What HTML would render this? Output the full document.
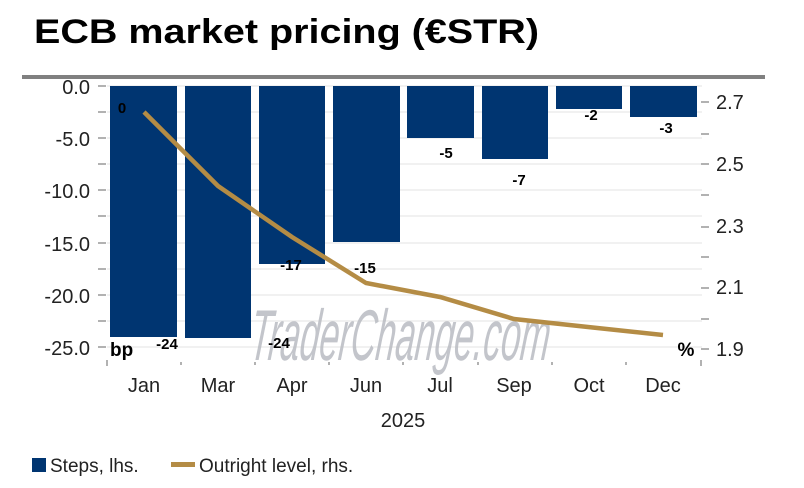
<!DOCTYPE html>
<html><head><meta charset="utf-8"><style>
body{margin:0;background:#fff;width:804px;height:483px;overflow:hidden;font-family:"Liberation Sans",sans-serif;}
</style></head><body>
<svg width="804" height="483" xmlns="http://www.w3.org/2000/svg" font-family="Liberation Sans, sans-serif">
<text x="34" y="43" font-size="34" font-weight="bold" fill="#000" textLength="505" lengthAdjust="spacingAndGlyphs">ECB market pricing (€STR)</text>
<rect x="22" y="75" width="743" height="4" fill="#808080"/>
<g stroke="#e3e3e3" stroke-width="1">
<line x1="107" x2="702" y1="86" y2="86"/><line x1="107" x2="702" y1="112" y2="112"/><line x1="107" x2="702" y1="138" y2="138"/><line x1="107" x2="702" y1="164" y2="164"/><line x1="107" x2="702" y1="190" y2="190"/><line x1="107" x2="702" y1="216" y2="216"/><line x1="107" x2="702" y1="243" y2="243"/><line x1="107" x2="702" y1="269" y2="269"/><line x1="107" x2="702" y1="295" y2="295"/><line x1="107" x2="702" y1="321" y2="321"/><line x1="107" x2="702" y1="347" y2="347"/>
</g>
<g stroke="#666" stroke-width="1">
<line x1="98" x2="106" y1="86" y2="86"/><line x1="98" x2="106" y1="112" y2="112"/><line x1="98" x2="106" y1="138" y2="138"/><line x1="98" x2="106" y1="164" y2="164"/><line x1="98" x2="106" y1="190" y2="190"/><line x1="98" x2="106" y1="216" y2="216"/><line x1="98" x2="106" y1="243" y2="243"/><line x1="98" x2="106" y1="269" y2="269"/><line x1="98" x2="106" y1="295" y2="295"/><line x1="98" x2="106" y1="321" y2="321"/><line x1="98" x2="106" y1="347" y2="347"/>
<line x1="701" x2="709" y1="102" y2="102"/><line x1="701" x2="709" y1="134" y2="134"/><line x1="701" x2="709" y1="164" y2="164"/><line x1="701" x2="709" y1="195" y2="195"/><line x1="701" x2="709" y1="227" y2="227"/><line x1="701" x2="709" y1="257" y2="257"/><line x1="701" x2="709" y1="288" y2="288"/><line x1="701" x2="709" y1="319" y2="319"/><line x1="701" x2="709" y1="349" y2="349"/>
<line x1="107" x2="107" y1="360" y2="366"/><line x1="181" x2="181" y1="362" y2="365"/><line x1="255" x2="255" y1="362" y2="365"/><line x1="329" x2="329" y1="362" y2="365"/><line x1="403" x2="403" y1="362" y2="365"/><line x1="478" x2="478" y1="362" y2="365"/><line x1="552" x2="552" y1="362" y2="365"/><line x1="626" x2="626" y1="362" y2="365"/><line x1="701" x2="701" y1="360" y2="366"/>
</g>
<g fill="#003571">
<rect x="110" y="86" width="67" height="251"/>
<rect x="185" y="86" width="66" height="252"/>
<rect x="259" y="86" width="66" height="178"/>
<rect x="333" y="86" width="67" height="156"/>
<rect x="407" y="86" width="67" height="52"/>
<rect x="482" y="86" width="66" height="73"/>
<rect x="556" y="86" width="66" height="23"/>
<rect x="630" y="86" width="67" height="31"/>
</g>
<text x="400" y="360" font-size="72" font-style="italic" fill="#b9bcc2" opacity="0.85" text-anchor="middle" textLength="300" lengthAdjust="spacingAndGlyphs" transform="skewX(-6) translate(36,0)">TraderChange.com</text>
<polyline points="144,112 218,186 292,237 366,283 440,297 514,319 588,327 663,335" fill="none" stroke="#b48c45" stroke-width="4.5"/>
<g font-size="15" font-weight="bold" fill="#000" text-anchor="middle">
<text x="122" y="113">0</text>
<text x="167" y="349">-24</text>
<text x="279" y="348">-24</text>
<text x="291" y="270">-17</text>
<text x="365" y="273">-15</text>
<text x="446" y="158">-5</text>
<text x="519" y="185">-7</text>
<text x="591" y="120">-2</text>
<text x="666" y="133">-3</text>
<text y="356" font-size="19" text-anchor="start" x="110">bp</text>
<text x="686" y="356" font-size="19">%</text>
</g>
<g font-size="20" fill="#222" text-anchor="end">
<text x="90" y="94">0.0</text><text x="90" y="146">-5.0</text><text x="90" y="198">-10.0</text><text x="90" y="251">-15.0</text><text x="90" y="303">-20.0</text><text x="90" y="355">-25.0</text>
</g>
<g font-size="20" fill="#222">
<text x="716" y="109">2.7</text><text x="716" y="171">2.5</text><text x="716" y="233">2.3</text><text x="716" y="294">2.1</text><text x="716" y="356">1.9</text>
</g>
<g font-size="20" fill="#222" text-anchor="middle">
<text x="144" y="392">Jan</text><text x="218" y="392">Mar</text><text x="292" y="392">Apr</text><text x="366" y="392">Jun</text><text x="440" y="392">Jul</text><text x="514" y="392">Sep</text><text x="589" y="392">Oct</text><text x="663" y="392">Dec</text>
<text x="403" y="427">2025</text>
</g>
<rect x="32" y="458" width="14" height="14" fill="#003571"/>
<text x="50" y="472" font-size="19" fill="#222">Steps, lhs.</text>
<rect x="171" y="462" width="24" height="5" fill="#b48c45"/>
<text x="199" y="472" font-size="19" fill="#222">Outright level, rhs.</text>
</svg>
</body></html>
